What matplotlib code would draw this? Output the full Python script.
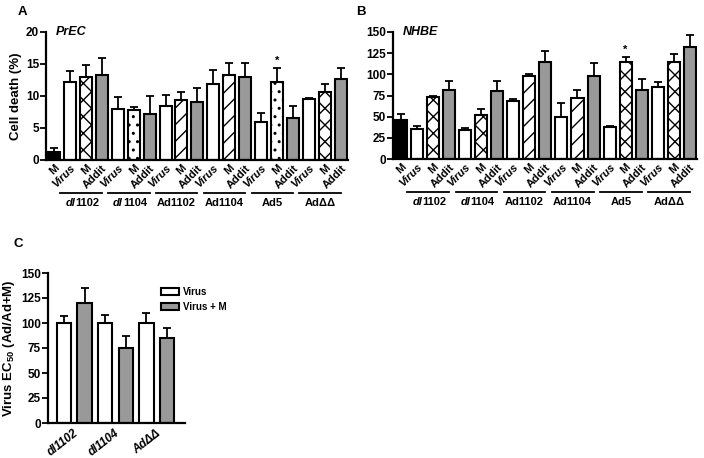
import matplotlib
matplotlib.use("Agg")
import matplotlib.pyplot as plt
import matplotlib.transforms as mtrans
import numpy as np

plt.rcParams['font.family'] = ['Liberation Sans', 'DejaVu Sans']
plt.rcParams['font.weight'] = 'bold'
plt.rcParams['axes.labelweight'] = 'bold'
plt.rcParams['hatch.linewidth'] = 1.0
plt.rcParams['mathtext.fontset'] = 'custom'
plt.rcParams['mathtext.rm'] = 'Liberation Sans:bold'
plt.rcParams['mathtext.it'] = 'Liberation Sans:italic:bold'
plt.rcParams['mathtext.bf'] = 'Liberation Sans:bold'

groups = ['dl1102', 'dl1104', 'Ad1102', 'Ad1104', 'Ad5', 'AdΔΔ']
bar_labels = ['M'] + ['Virus', 'M', 'Addit'] * 6

# Panel A: PrEC cell death (%)
a_vals = [1.2, 12.2, 13.0, 13.3, 7.9, 7.8, 7.2, 8.5, 9.4, 9.1,
          11.9, 13.3, 13.0, 5.9, 12.2, 6.5, 9.6, 10.7, 12.6]
a_err = [0.6, 1.7, 1.8, 2.7, 1.9, 0.5, 2.8, 1.7, 1.3, 2.2,
         2.2, 1.9, 2.2, 1.5, 2.1, 2.0, 0.1, 1.2, 1.7]
a_hatch = ['xx', '..', '//', '//', '..', 'xx']

# Panel B: NHBE
b_vals = [46, 36, 73, 81, 34, 52, 80, 68, 98, 114,
          50, 72, 98, 38, 114, 82, 85, 115, 132]
b_err = [7, 3, 2, 11, 3, 7, 12, 3, 2, 13,
         16, 10, 15, 1, 6, 12, 6, 9, 15]
b_hatch = ['xx', 'xx', '//', '//', 'xx', 'xx']

# Panel C: Virus EC50
c_groups = ['dl1102', 'dl1104', 'AdΔΔ']
c_virus = [100, 100, 100]
c_virus_err = [7, 8, 10]
c_virusM = [120, 75, 85]
c_virusM_err = [15, 12, 10]

GREY = '#999999'
W, H = 704, 458
fig = plt.figure(figsize=(W / 100, H / 100), dpi=100)

def style_axes(ax):
    for s in ['top', 'right']:
        ax.spines[s].set_visible(False)
    for s in ['left', 'bottom']:
        ax.spines[s].set_linewidth(1.6)
    ax.tick_params(axis='y', width=1.3, length=4, labelsize=8.5, pad=1)
    ax.tick_params(axis='x', length=0, labelsize=8, pad=2)

def draw_group_label(ax, tr, xc, y, g, fs=8):
    if g.startswith('dl'):
        # "dl" italic, number upright; split point offset so the whole is centred
        split = -0.6 * fs
        t1 = mtrans.offset_copy(tr, fig=fig, x=split + 0.5, y=0, units='points')
        t2 = mtrans.offset_copy(tr, fig=fig, x=split + 0.6, y=0, units='points')
        ax.text(xc, y, 'dl', transform=t1, ha='right', va='top', fontsize=fs,
                style='italic')
        ax.text(xc, y, g[2:], transform=t2, ha='left', va='top', fontsize=fs)
    else:
        ax.text(xc, y, g, transform=tr, ha='center', va='top', fontsize=fs)

def draw_panel(ax, vals, errs, hatches, ylim, yticks, title, star_idx):
    x = np.arange(len(vals))
    for i, (v, e) in enumerate(zip(vals, errs)):
        if i == 0:
            fc, h = 'black', None
        else:
            k = (i - 1) % 3
            gi = (i - 1) // 3
            if k == 0:
                fc, h = 'white', None
            elif k == 1:
                fc, h = 'white', hatches[gi]
            else:
                fc, h = GREY, None
        ax.bar(x[i], v, width=0.75, color=fc, edgecolor='black',
               linewidth=1.5, hatch=h, zorder=2)
        ax.errorbar(x[i], v, yerr=[[0], [e]], fmt='none', ecolor='black',
                    elinewidth=1.3, capsize=3, capthick=1.3, zorder=1)
    ax.set_xlim(-0.5, len(vals) - 0.55)
    ax.set_ylim(*ylim)
    ax.set_yticks(yticks)
    ax.set_xticks(x)
    ax.set_xticklabels(bar_labels, rotation=45, ha='right',
                       rotation_mode='anchor')
    for i, t in enumerate(ax.get_xticklabels()):
        if bar_labels[i] == 'Virus':
            t.set_style('italic')
    style_axes(ax)
    ax.text(0.12, ylim[1], title, style='italic', fontsize=9,
            ha='left', va='center', fontweight='bold')
    sv = vals[star_idx] + errs[star_idx]
    ax.text(star_idx, sv + (ylim[1]) * 0.02, '*', ha='center', va='bottom',
            fontsize=8)
    tr = mtrans.blended_transform_factory(ax.transData, ax.transAxes)
    for gi, g in enumerate(groups):
        x0 = 1 + 3 * gi - 0.6
        x1 = 1 + 3 * gi + 2 + 0.0
        ax.plot([x0, x1], [-0.26, -0.26], transform=tr, color='black',
                lw=1.3, clip_on=False)
        draw_group_label(ax, tr, (x0 + x1) / 2, -0.30, g)

axA = fig.add_axes([46 / W, 1 - 160 / H, 302 / W, 128 / H])
draw_panel(axA, a_vals, a_err, a_hatch, (0, 20), [0, 5, 10, 15, 20],
           'PrEC', 14)
axA.set_ylabel('Cell death (%)', fontsize=9.5, labelpad=3)

axB = fig.add_axes([393 / W, 1 - 159 / H, 304 / W, 127 / H])
draw_panel(axB, b_vals, b_err, b_hatch, (0, 150),
           [0, 25, 50, 75, 100, 125, 150], 'NHBE', 14)

axC = fig.add_axes([48 / W, 1 - 423 / H, 137 / W, 150 / H])
xc = np.arange(3) * 2
bv = axC.bar(xc, c_virus, width=0.7, color='white', edgecolor='black',
             linewidth=1.5, zorder=2, label='Virus')
bm = axC.bar(xc + 1, c_virusM, width=0.7, color=GREY, edgecolor='black',
             linewidth=1.5, zorder=2, label='Virus + M')
axC.errorbar(xc, c_virus, yerr=[[0] * 3, c_virus_err], fmt='none',
             ecolor='black', elinewidth=1.3, capsize=3, capthick=1.3, zorder=1)
axC.errorbar(xc + 1, c_virusM, yerr=[[0] * 3, c_virusM_err], fmt='none',
             ecolor='black', elinewidth=1.3, capsize=3, capthick=1.3, zorder=1)
axC.set_xlim(-0.78, 5.87)
axC.set_ylim(0, 150)
axC.set_yticks([0, 25, 50, 75, 100, 125, 150])
axC.set_xticks(xc + 0.45)
axC.set_xticklabels(c_groups, rotation=38, ha='right', rotation_mode='anchor',
                    style='italic')
style_axes(axC)
axC.tick_params(axis='x', labelsize=8.5, pad=3)
axC.set_ylabel('Virus EC$_{50}$ (Ad/Ad+M)', fontsize=9.5, labelpad=3)
fig.legend(handles=[bv, bm], labels=['Virus', 'Virus + M'],
           loc='upper left', bbox_to_anchor=(157 / W, 1 - 283 / H),
           frameon=False, fontsize=7, handlelength=1.9, handleheight=0.8,
           borderaxespad=0, handletextpad=0.4, labelspacing=0.5)

fig.text(18 / W, 1 - 12 / H, 'A', fontsize=9.5, fontweight='bold', va='center')
fig.text(356 / W, 1 - 12 / H, 'B', fontsize=9.5, fontweight='bold', va='center')
fig.text(14 / W, 1 - 244 / H, 'C', fontsize=9.5, fontweight='bold', va='center')

fig.savefig('out.png', dpi=100)
